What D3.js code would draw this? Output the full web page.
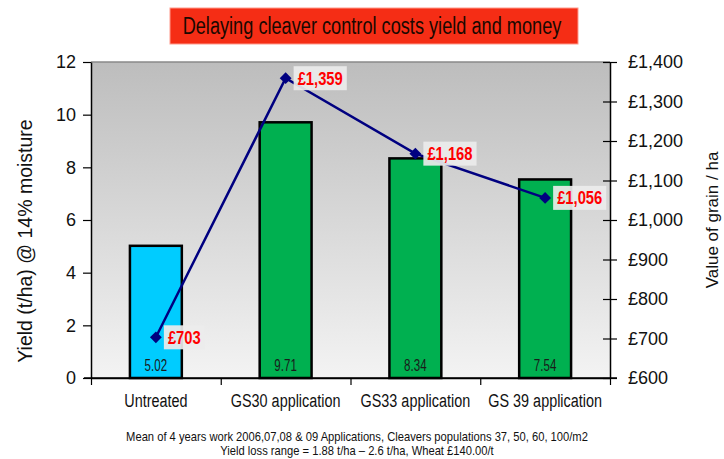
<!DOCTYPE html>
<html>
<head>
<meta charset="utf-8">
<script src="https://cdn.jsdelivr.net/npm/d3@7"></script>
<style>
  body { margin: 0; background: #ffffff; }
  svg { display: block; }
  text { font-family: "Liberation Sans", Arial, sans-serif; }
</style>
</head>
<body>
<svg id="chart" width="724" height="459"></svg>
<script>
// Treatments and their results
const categories = ["Untreated", "GS30 application", "GS33 application", "GS 39 application"];
const yieldValues = [5.02, 9.71, 8.34, 7.54];          // t/ha @ 14% moisture
const grainValues = [703, 1359, 1168, 1056];           // £ per ha
const barColors = ["#00ccff", "#00b050", "#00b050", "#00b050"];

const yieldTicks = [0, 2, 4, 6, 8, 10, 12];
const valueTicks = [600, 700, 800, 900, 1000, 1100, 1200, 1300, 1400];

const titleText = "Delaying cleaver control costs yield and money";
const yieldTitle = "Yield (t/ha) @ 14% moisture";
const valueTitle = "Value of grain / ha";
const footnotes = [
  "Mean of 4 years work 2006,07,08 & 09 Applications, Cleavers populations  37, 50, 60, 100/m2",
  "Yield loss range = 1.88 t/ha \u2013 2.6 t/ha, Wheat \u00a3140.00/t"
];

const svg = d3.select("#chart");
const plot = { left: 91, right: 610, top: 62, bottom: 378 };

const x = d3.scaleBand().domain(categories).range([plot.left, plot.right]);
const xEdges = d3.scaleLinear().domain([0, categories.length]).range([plot.left, plot.right]);
const yL = d3.scaleLinear().domain([0, 12]).range([plot.bottom, plot.top]);
const yR = d3.scaleLinear().domain([600, 1400]).range([plot.bottom, plot.top]);
const money = v => "\u00a3" + d3.format(",")(v);

// Condensed lettering: compress each text horizontally to a share of its natural width
function condense(sel, ratio) {
  sel.each(function () {
    const w = this.getComputedTextLength();
    d3.select(this)
      .attr("textLength", w * ratio)
      .attr("lengthAdjust", "spacingAndGlyphs")
      .property("__w", w * ratio);
  });
}

// Plot-area gradient
const defs = svg.append("defs");
const grad = defs.append("linearGradient").attr("id", "plotBg")
  .attr("x1", 0).attr("y1", 0).attr("x2", 0).attr("y2", 1);
grad.append("stop").attr("offset", "0%").attr("stop-color", "#bdbdbd");
grad.append("stop").attr("offset", "100%").attr("stop-color", "#f3f3f3");

svg.append("rect")
  .attr("x", plot.left).attr("y", plot.top)
  .attr("width", plot.right - plot.left).attr("height", plot.bottom - plot.top)
  .attr("fill", "url(#plotBg)");
svg.append("line")
  .attr("x1", plot.left).attr("x2", plot.right)
  .attr("y1", plot.top).attr("y2", plot.top)
  .attr("stroke", "#8a8a8a").attr("stroke-width", 1.5);

// Title banner
svg.append("rect")
  .attr("x", 170).attr("y", 8).attr("width", 408).attr("height", 36)
  .attr("fill", "#f52d15").attr("stroke", "#ff9a8c").attr("stroke-width", 1);
svg.append("text")
  .attr("x", 372).attr("y", 34)
  .attr("text-anchor", "middle").attr("font-size", 23).attr("fill", "#1a0800")
  .text(titleText)
  .call(condense, 0.79);

// Yield bars
const bw = x.bandwidth() * 0.4;
svg.append("g").selectAll("rect")
  .data(categories)
  .join("rect")
  .attr("x", d => x(d) + (x.bandwidth() - bw) / 2)
  .attr("y", (d, i) => yL(yieldValues[i]))
  .attr("width", bw)
  .attr("height", (d, i) => yL(0) - yL(yieldValues[i]))
  .attr("fill", (d, i) => barColors[i])
  .attr("stroke", "#000").attr("stroke-width", 2.5);

svg.append("g").selectAll("text")
  .data(categories)
  .join("text")
  .attr("x", d => x(d) + x.bandwidth() / 2)
  .attr("y", plot.bottom - 7)
  .attr("text-anchor", "middle").attr("font-size", 17).attr("fill", "#1a1a1a")
  .text((d, i) => yieldValues[i].toFixed(2))
  .call(condense, 0.68);

// Left axis
const gL = svg.append("g").attr("transform", `translate(${plot.left},0)`)
  .call(d3.axisLeft(yL).tickValues(yieldTicks).tickSize(8).tickSizeOuter(0).tickPadding(7));
// Right axis (ticks cross the axis line)
const gR = svg.append("g").attr("transform", `translate(${plot.right},0)`)
  .call(d3.axisRight(yR).tickValues(valueTicks).tickFormat(money).tickSize(7).tickSizeOuter(0).tickPadding(11));
gR.selectAll(".tick line").attr("x1", -7);
// Bottom axis: category boundaries
const gB = svg.append("g").attr("transform", `translate(0,${plot.bottom})`)
  .call(d3.axisBottom(xEdges).ticks(categories.length).tickFormat("").tickSize(7).tickSizeOuter(0));
svg.append("line")
  .attr("x1", plot.left - 7).attr("x2", plot.right + 7)
  .attr("y1", plot.bottom).attr("y2", plot.bottom)
  .attr("stroke", "#000").attr("stroke-width", 1.5);
// Category labels
const gC = svg.append("g").attr("transform", `translate(0,${plot.bottom})`)
  .call(d3.axisBottom(x).tickSize(0).tickPadding(16));
gC.select(".domain").remove();

[gL, gR, gB].forEach(g => {
  g.select(".domain").attr("stroke", "#000").attr("stroke-width", 1.5);
  g.selectAll(".tick line").attr("stroke", "#000").attr("stroke-width", 1.2);
});
gL.selectAll(".tick text").attr("font-family", null).attr("font-size", 18).attr("fill", "#111");
gR.selectAll(".tick text").attr("font-family", null).attr("font-size", 18).attr("fill", "#111");
gC.selectAll(".tick text").attr("font-family", null).attr("font-size", 18).attr("fill", "#111")
  .call(condense, 0.8);
gL.attr("font-family", null); gR.attr("font-family", null); gC.attr("font-family", null);

// Axis titles
svg.append("text")
  .attr("transform", "translate(25,241) rotate(-90)")
  .attr("text-anchor", "middle").attr("dominant-baseline", "central")
  .attr("font-size", 19.5).attr("fill", "#111")
  .text(yieldTitle);
svg.append("text")
  .attr("transform", "translate(712,220) rotate(-90)")
  .attr("text-anchor", "middle").attr("dominant-baseline", "central")
  .attr("font-size", 17).attr("fill", "#111")
  .text(valueTitle);

// Grain value line
const pts = categories.map((c, i) => [x(c) + x.bandwidth() / 2, yR(grainValues[i])]);
svg.append("path")
  .attr("d", d3.line()(pts))
  .attr("fill", "none").attr("stroke", "#000080").attr("stroke-width", 2.5);
svg.append("g").selectAll("path")
  .data(pts)
  .join("path")
  .attr("transform", d => `translate(${d[0]},${d[1]}) rotate(45)`)
  .attr("d", d3.symbol(d3.symbolSquare, 70))
  .attr("fill", "#000080");

// Value labels
const lab = svg.append("g").selectAll("g")
  .data(pts)
  .join("g")
  .attr("transform", d => `translate(${d[0] + 8},${d[1]})`);
lab.append("rect");
lab.append("text")
  .attr("x", 4).attr("y", 0).attr("dy", "0.36em")
  .attr("font-size", 18).attr("font-weight", "bold").attr("fill", "#ff0000")
  .text((d, i) => money(grainValues[i]))
  .call(condense, 0.82);
lab.each(function () {
  const w = d3.select(this).select("text").property("__w");
  d3.select(this).select("rect")
    .attr("x", 0).attr("y", -12)
    .attr("width", w + 8).attr("height", 24)
    .attr("fill", "#ececec").attr("fill-opacity", 0.92);
});

// Footnotes
svg.append("g").selectAll("text")
  .data(footnotes)
  .join("text")
  .attr("x", 357).attr("y", (d, i) => 441 + i * 14)
  .attr("text-anchor", "middle").attr("font-size", 13).attr("fill", "#111")
  .text(d => d)
  .call(condense, 0.86);
</script>
</body>
</html>
